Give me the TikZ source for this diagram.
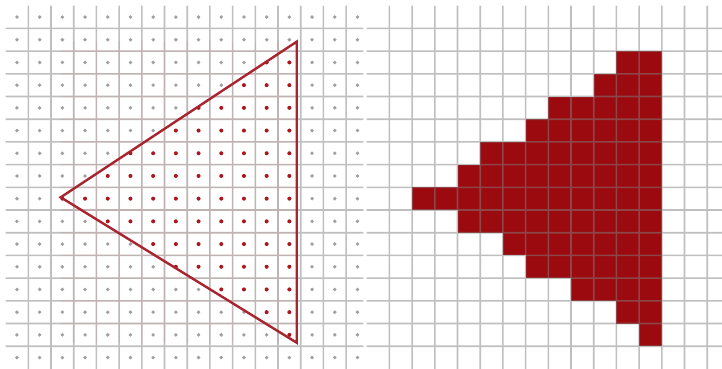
\documentclass[tikz,border=0pt]{standalone}
\definecolor{gridc}{RGB}{128,128,128}
\definecolor{dotgray}{RGB}{160,160,160}
\definecolor{dotred}{RGB}{172,22,28}
\definecolor{trired}{RGB}{168,36,46}
\definecolor{cellred}{RGB}{155,10,15}
\tikzset{
  gridline/.style={draw=gridc, line width=1.6pt},
  tintline/.style={draw=red!75!black, line width=1.6pt},
  tri/.style={draw=trired, line width=2.4pt, line join=miter},
  pixel/.style={fill=cellred},
  gdot/.style={fill=dotgray},
  rdot/.style={fill=dotred}
}
\begin{document}
\begin{tikzpicture}[x=1pt,y=-1pt]
\useasboundingbox (0,0) rectangle (722,369);
\fill[white] (0,0) rectangle (722,369);
\def\s{22.7}
% right panel: rasterised cells
\foreach \r/\a in {2/11,3/10,4/8,5/7,6/5,7/4,8/2,9/4,10/6,11/7,12/9,13/11,14/12}{
  \foreach \c in {\a,...,12}{
    \fill[pixel] ({366.7+\c*\s},{5.7+\r*\s}) rectangle ++(\s,\s);
  }
}
% grid lines
\begin{scope}[transparency group, opacity=0.5]
\foreach \k in {1,...,15}{
  \draw[gridline] ({5.6+\k*\s},5.7) -- ({5.6+\k*\s},369);
  \draw[gridline] (5.6,{5.7+\k*\s}) -- (363.3,{5.7+\k*\s});
  \draw[gridline] ({366.7+\k*\s},5.7) -- ({366.7+\k*\s},369);
  \draw[gridline] (366.7,{5.7+\k*\s}) -- (722,{5.7+\k*\s});
}
\end{scope}
% faint tint of the grid inside the triangle's bounding box
\begin{scope}[transparency group, opacity=0.06]
\clip (60.7,41.7) rectangle (296.7,342.7);
\foreach \k in {1,...,15}{
  \draw[tintline] ({5.6+\k*\s},5.7) -- ({5.6+\k*\s},369);
  \draw[tintline] (5.6,{5.7+\k*\s}) -- (363.3,{5.7+\k*\s});
}
\end{scope}
% sample points
\foreach \r in {0,...,15}{
  \foreach \c in {0,...,15}{
    \fill[gdot] ({5.6+(\c+0.5)*\s},{5.7+(\r+0.5)*\s}) circle (1.9pt);
  }
}
\foreach \r/\a in {2/11,3/10,4/8,5/7,6/5,7/4,8/2,9/4,10/6,11/7,12/9,13/11,14/12}{
  \foreach \c in {\a,...,12}{
    \fill[rdot] ({5.6+(\c+0.5)*\s},{5.7+(\r+0.5)*\s}) circle (2.0pt);
  }
}
% triangle
\coordinate (A) at (60.7,197.3);
\coordinate (B) at (296.7,41.7);
\coordinate (C) at (296.7,342.7);
\draw[tri] (A) -- (B) -- (C) -- cycle;
\end{tikzpicture}
\end{document}
